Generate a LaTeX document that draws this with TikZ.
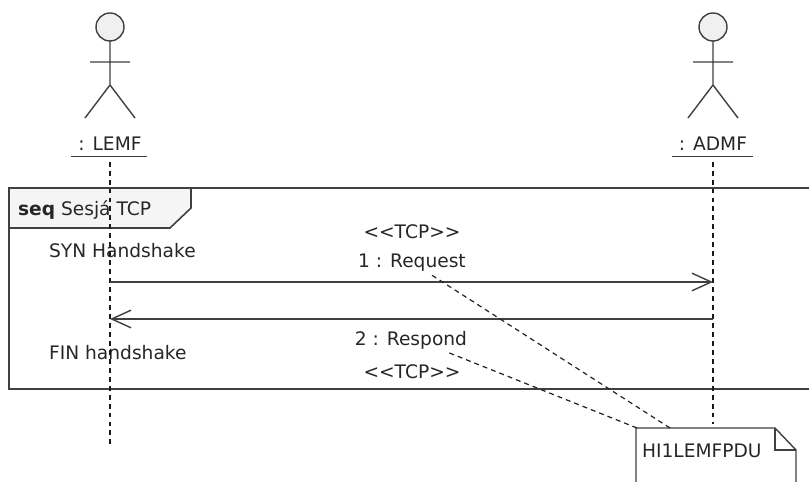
\documentclass[tikz,border=0pt]{standalone}
\usepackage{fontspec}
\setmainfont{DejaVu Sans}
\usetikzlibrary{arrows.meta}
\begin{document}
\begin{tikzpicture}[x=0.02cm,y=-0.02cm]
  \tikzset{lbl/.style = {inner sep=1pt,text=black!85,font=\fontsize{10.6}{12}\selectfont}}
  \tikzset{msg/.style = {draw=black!75,line width=0.8pt,-{Straight Barb[length=11pt,width=10pt]}}}
  \tikzset{life/.style = {draw=black!90,line width=1.1pt,dash pattern=on 2.8pt off 2.3pt}}
  \tikzset{link/.style = {draw=black!85,line width=0.7pt,dash pattern=on 2.8pt off 2.3pt}}
  \tikzset{stick/.style = {draw=black!75,line width=0.8pt}}
  \useasboundingbox (0,0) rectangle (809,482);
	% frame
	\draw[stick,line width=0.9pt] (830,188) -- (9,188) -- (9,389) -- (830,389);
	\draw[stick,line width=0.9pt,fill=black!4] (9,188) -- (191,188) -- (191,208) -- (170,228) -- (9,228) -- cycle;
	\node[lbl,anchor=west] (frm) at (16,210) {\textbf{seq} Sesjá TCP};
	\node[lbl,anchor=west] (syn) at (47,251) {SYN Handshake};
	\node[lbl,anchor=west] (fin) at (47,353) {FIN handshake};

	% actors
    \foreach \x/\n/\t in {110/lemf/LEMF,713/admf/ADMF}{
    \draw[stick,fill=black!6] (\x,27) circle [radius=14];
    \draw[stick] (\x,41) -- (\x,85) (\x-20,62) -- (\x+20,62) (\x-25,118) -- (\x,85) -- (\x+25,118);
    \node[lbl] (\n) at (\x,144) {: \t};
    \draw[stick] ([xshift=-3pt,yshift=-2pt]\n.south west) -- ([xshift=2pt,yshift=-2pt]\n.south east);
    }
	\coordinate (lemfend) at (110,447);
	\coordinate (admfend) at (713,424);
	\draw[life] ([yshift=-5pt]lemf.south) -- (lemfend);
	\draw[life] ([yshift=-5pt]admf.south) -- (admfend);

	% messages
	\coordinate (req1) at (110,282);
	\coordinate (req2) at (713,282);
	\coordinate (res1) at (713,319);
	\coordinate (res2) at (110,319);
	\draw[msg] (req1) -- (req2);
	\draw[msg] (res1) -- (res2);
	\node[lbl] (tcp1) at (412,232) {<\kern0pt<TCP>\kern0pt>};
	\node[lbl] (req) at (412,263) {1 : Request};
	\node[lbl] (res) at (411,340) {2 : Respond};
	\node[lbl] (tcp2) at (412,372) {<\kern0pt<TCP>\kern0pt>};

	% note
	\draw[stick,fill=white] (636,490) -- (636,428) -- (775,428) -- (796,450) -- (796,490);
	\draw[stick] (775,428) -- (775,450) -- (796,450);
	\node[lbl,anchor=west] (pdu) at (640,451) {HI1LEMFPDU};
	\coordinate (note1) at (670,428);
	\coordinate (note2) at (637,428);
	\coordinate (reqend) at (430,274);
	\coordinate (resend) at (447,352);
	\draw[link] (note1) -- (reqend);
	\draw[link] (note2) -- (resend);
\end{tikzpicture}
\end{document}
